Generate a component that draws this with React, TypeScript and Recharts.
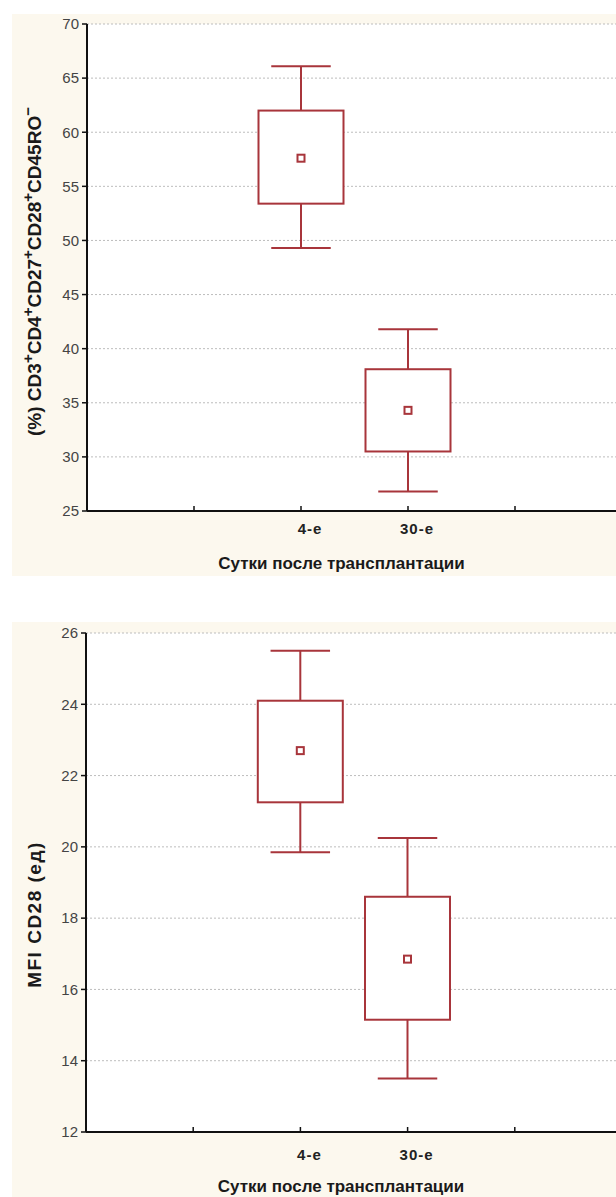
import { ComposedChart, Bar, XAxis, YAxis, CartesianGrid, Label } from "recharts";

const days = ["4-е", "30-е"];
const dayPos = [2, 3];
const xTicks = [0, 1, 2, 3, 4, 5];

// (%) CD3+CD4+CD27+CD28+CD45RO-
const pctMin = [49.3, 26.8];
const pctQ1 = [53.4, 30.5];
const pctMean = [57.6, 34.3];
const pctQ3 = [62.0, 38.1];
const pctMax = [66.1, 41.8];
const pctTicks = [25, 30, 35, 40, 45, 50, 55, 60, 65, 70];

// MFI CD28 (ед)
const mfiMin = [19.85, 13.5];
const mfiQ1 = [21.25, 15.15];
const mfiMean = [22.7, 16.85];
const mfiQ3 = [24.1, 18.6];
const mfiMax = [25.5, 20.25];
const mfiTicks = [12, 14, 16, 18, 20, 22, 24, 26];

const RED = "#A8353B";
const CREAM = "#FCF8EE";
const FONT = "'Liberation Sans', Arial, sans-serif";

const makeRows = (mn: number[], q1: number[], mean: number[], q3: number[], mx: number[]) =>
  dayPos.map((x, i) => ({
    x,
    day: days[i],
    min: mn[i],
    q1: q1[i],
    mean: mean[i],
    q3: q3[i],
    max: mx[i],
    range: [mn[i], mx[i]],
  }));

const pctRows = makeRows(pctMin, pctQ1, pctMean, pctQ3, pctMax);
const mfiRows = makeRows(mfiMin, mfiQ1, mfiMean, mfiQ3, mfiMax);

const dayLabel = (v: number) => {
  const i = dayPos.indexOf(v);
  return i >= 0 ? days[i] : "";
};

// whisker + box + mean, scaled from the bar's [min, max] pixel span
const BoxShape = (props: any) => {
  const { x, y, width, height, payload } = props;
  if (!payload) return null;
  const k = height / (payload.max - payload.min);
  const py = (v: number) => y + (payload.max - v) * k;
  const cx = x + width / 2;
  const cap = width * 0.35;
  return (
    <g stroke={RED} strokeWidth={2} fill="none">
      <line x1={cx - cap} x2={cx + cap} y1={py(payload.max)} y2={py(payload.max)} />
      <line x1={cx} x2={cx} y1={py(payload.max)} y2={py(payload.q3)} />
      <rect x={x} y={py(payload.q3)} width={width} height={py(payload.q1) - py(payload.q3)} fill="#fff" />
      <line x1={cx} x2={cx} y1={py(payload.q1)} y2={py(payload.min)} />
      <line x1={cx - cap} x2={cx + cap} y1={py(payload.min)} y2={py(payload.min)} />
      <rect x={cx - 3.5} y={py(payload.mean) - 3.5} width={7} height={7} fill="#fff" strokeWidth={2} />
    </g>
  );
};

const TopTick = (props: any) => {
  const { x, y } = props;
  return <line x1={x} x2={x} y1={y} y2={y + 5} stroke="#111" strokeWidth={1.5} />;
};

const makeBottomTick = (labelDy: number) => (props: any) => {
  const { x, y, payload } = props;
  return (
    <g>
      <line x1={x} x2={x} y1={y} y2={y - 5} stroke="#111" strokeWidth={1.5} />
      <text
        x={x + 9}
        y={y + labelDy}
        textAnchor="middle"
        dominantBaseline="central"
        fontFamily={FONT}
        fontWeight="bold"
        fontSize={15}
        letterSpacing={1}
        fill="#222"
      >
        {dayLabel(payload.value)}
      </text>
    </g>
  );
};

const makeTitle = (dy: number) => (props: any) => {
  const vb = props.viewBox;
  return (
    <text
      x={vb.x + vb.width / 2 - 13}
      y={vb.y + dy}
      textAnchor="middle"
      dominantBaseline="central"
      fontFamily={FONT}
      fontWeight="bold"
      fontSize={17}
      fill="#1a1a1a"
    >
      Сутки после трансплантации
    </text>
  );
};

// label pieces: [text, isSuperscript]
const pctPieces: [string, boolean][] = [
  ["(%) CD3", false],
  ["+", true],
  ["CD4", false],
  ["+", true],
  ["CD27", false],
  ["+", true],
  ["CD28", false],
  ["+", true],
  ["CD45RO", false],
  ["−", true],
];

const pctLabel = (props: any) => {
  const vb = props.viewBox;
  const cx = 22;
  const cy = vb.y + vb.height / 2 + 4;
  let prevSup = false;
  return (
    <text
      x={cx}
      y={cy}
      transform={`rotate(-90, ${cx}, ${cy})`}
      textAnchor="middle"
      dominantBaseline="central"
      fontFamily={FONT}
      fontWeight="bold"
      fontSize={19}
      fill="#1a1a1a"
    >
      {pctPieces.map(([t, isSup], i) => {
        const dy = isSup ? (prevSup ? 0 : -7) : prevSup ? 7 : 0;
        prevSup = isSup;
        return (
          <tspan key={i} dy={dy} fontSize={isSup ? 15 : 19}>
            {t}
          </tspan>
        );
      })}
    </text>
  );
};

const mfiLabel = (props: any) => {
  const vb = props.viewBox;
  const cx = 22;
  const cy = vb.y + vb.height / 2 + 32;
  return (
    <text
      x={cx}
      y={cy}
      transform={`rotate(-90, ${cx}, ${cy})`}
      textAnchor="middle"
      dominantBaseline="central"
      fontFamily={FONT}
      fontWeight="bold"
      fontSize={19}
      letterSpacing={1.5}
      fill="#1a1a1a"
    >
      MFI CD28 (ед)
    </text>
  );
};

type PanelProps = {
  top: number;
  height: number;
  plotLeft: number;
  plotTop: number;
  rows: any[];
  domain: [number, number];
  yTicks: number[];
  yLabel: (p: any) => any;
  tickDy: number;
  titleDy: number;
};

function BoxPanel({ top, height, plotLeft, plotTop, rows, domain, yTicks, yLabel, tickDy, titleDy }: PanelProps) {
  return (
    <div style={{ position: "absolute", left: 12, top, width: 612, height, background: CREAM }}>
      <ComposedChart
        width={612}
        height={height}
        data={rows}
        margin={{ top: plotTop, right: 2, left: 0, bottom: 0 }}
      >
        <CartesianGrid
          vertical={false}
          stroke="#bdbdbd"
          strokeDasharray="2 2"
          fill="#ffffff"
          fillOpacity={1}
        />
        <XAxis
          xAxisId="top"
          orientation="top"
          type="number"
          dataKey="x"
          domain={[0, 5]}
          ticks={xTicks}
          interval={0}
          height={0}
          tickSize={0}
          tickMargin={0}
          tickLine={false}
          tick={<TopTick />}
          axisLine={{ stroke: "#111", strokeWidth: 2 }}
        />
        <XAxis
          xAxisId="bottom"
          type="number"
          dataKey="x"
          domain={[0, 5]}
          ticks={xTicks}
          interval={0}
          height={65}
          tickSize={0}
          tickMargin={0}
          tickLine={false}
          tick={makeBottomTick(tickDy)}
          axisLine={{ stroke: "#111", strokeWidth: 2 }}
        >
          <Label content={makeTitle(titleDy)} />
        </XAxis>
        <YAxis
          type="number"
          domain={domain}
          ticks={yTicks}
          interval={0}
          width={plotLeft}
          tickSize={5}
          tickMargin={3}
          tickLine={{ stroke: "#111", strokeWidth: 1.5 }}
          axisLine={{ stroke: "#111", strokeWidth: 2 }}
          tick={{ fontSize: 15, fill: "#444", fontFamily: FONT }}
        >
          <Label content={yLabel} />
        </YAxis>
        <Bar
          xAxisId="bottom"
          dataKey="range"
          barSize={85}
          shape={<BoxShape />}
          isAnimationActive={false}
        />
      </ComposedChart>
    </div>
  );
}

export default function App() {
  return (
    <div style={{ position: "absolute", left: 0, top: 0, width: 616, height: 1197, overflow: "hidden", background: "#fff" }}>
      <BoxPanel
        top={14}
        height={562}
        plotLeft={75}
        plotTop={10}
        rows={pctRows}
        domain={[25, 70]}
        yTicks={pctTicks}
        yLabel={pctLabel}
        tickDy={17}
        titleDy={52}
      />
      <BoxPanel
        top={622}
        height={575}
        plotLeft={74}
        plotTop={11}
        rows={mfiRows}
        domain={[12, 26]}
        yTicks={mfiTicks}
        yLabel={mfiLabel}
        tickDy={22}
        titleDy={54}
      />
    </div>
  );
}
